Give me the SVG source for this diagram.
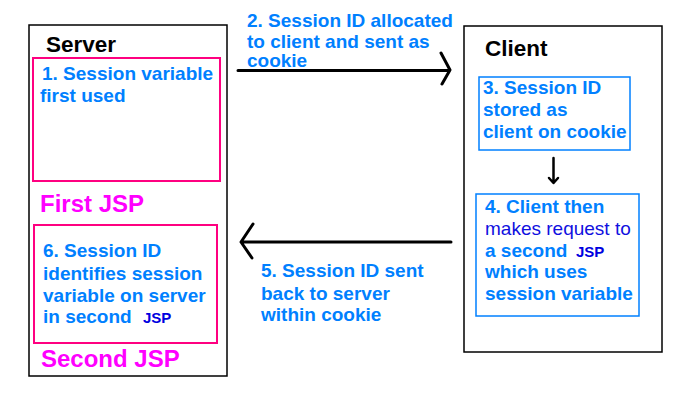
<svg xmlns="http://www.w3.org/2000/svg" width="675" height="404" viewBox="0 0 675 404">
<style>
text{font-family:"Liberation Sans",Arial,sans-serif;font-weight:bold}
.t{font-size:19px;fill:#0080ff}
.h{font-size:22.5px;fill:#000}
.m{font-size:24px;fill:#ff00ff}
.j{font-size:15px;fill:#0000e0}
.r{font-weight:normal;fill:#1010e0}
.outer{fill:none;stroke:#000;stroke-width:1.5}
.pink{fill:none;stroke:#ff0080;stroke-width:2}
.blue{fill:none;stroke:#0080ff;stroke-width:1.5}
.ar{fill:none;stroke:#000;stroke-width:3;stroke-linecap:round;stroke-linejoin:round}
</style>
<rect width="675" height="404" fill="#fff"/>
<g id="server">
<rect class="outer" x="29" y="25" width="198" height="351"/>
<text class="h" x="46" y="52">Server</text>
</g>
<g id="step1">
<rect class="pink" x="33" y="58" width="187" height="123"/>
<text class="t" x="42" y="80">1. Session variable</text>
<text class="t" x="40" y="102">first used</text>
</g>
<g id="firstjsp"><text class="m" x="40" y="212">First JSP</text></g>
<g id="step6">
<rect class="pink" x="34" y="225" width="183" height="118"/>
<text class="t" x="43" y="257">6. Session ID</text>
<text class="t" x="43" y="280">identifies session</text>
<text class="t" x="43" y="302">variable on server</text>
<text class="t" x="43" y="323">in second</text>
<text class="j" x="143" y="323">JSP</text>
</g>
<g id="secondjsp"><text class="m" x="41" y="367">Second JSP</text></g>
<g id="client">
<rect class="outer" x="464" y="26" width="198" height="326"/>
<text class="h" x="485" y="56">Client</text>
</g>
<g id="step3">
<rect class="blue" x="479" y="77" width="151" height="73"/>
<text class="t" x="483" y="94">3. Session ID</text>
<text class="t" x="483" y="116">stored as</text>
<text class="t" x="483" y="138">client on cookie</text>
</g>
<g id="step4">
<rect class="blue" x="476" y="194" width="163" height="122"/>
<text class="t" x="485" y="213">4. Client then</text>
<text class="t r" x="485" y="235">makes request to</text>
<text class="t" x="485" y="257">a second</text>
<text class="j" x="576" y="257">JSP</text>
<text class="t" x="485" y="278">which uses</text>
<text class="t" x="485" y="300">session variable</text>
</g>
<g id="step2"><text class="t" x="247" y="27">2. Session ID allocated</text>
<text class="t" x="247" y="48">to client and sent as</text>
<text class="t" x="247" y="67">cookie</text></g>
<g id="step5"><text class="t" x="261" y="277">5. Session ID sent</text>
<text class="t" x="261" y="300">back to server</text>
<text class="t" x="261" y="321">within cookie</text></g>
<g id="connectors">
<path class="ar" d="M238 70.5H449M441 53L450 70L442 84"/>
<path class="ar" d="M451 242H242M253 224L241 242L252 258"/>
<path class="ar" d="M553.5 158V182M549 178L553.5 183L558 178" style="stroke-width:2.5"/>
</g>
</svg>
